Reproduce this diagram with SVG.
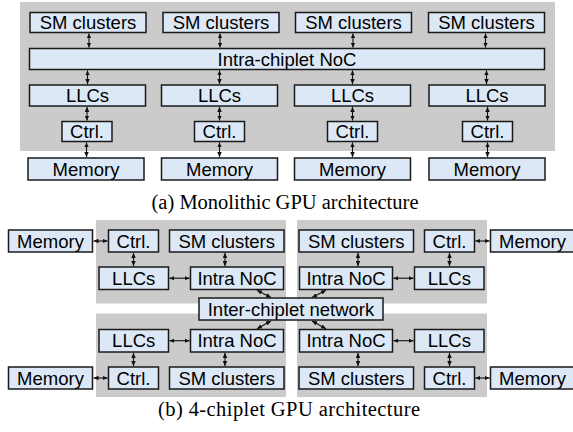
<svg xmlns="http://www.w3.org/2000/svg" width="573" height="432" viewBox="0 0 573 432">
<style>
.bg{fill:#cbcbcb}
.b{fill:#dce8f5;stroke:#1a1a1a;stroke-width:1.5}
.t{font-family:"Liberation Sans",Arial,sans-serif;font-size:18.5px;fill:#000;text-anchor:middle}
.cap{font-family:"Liberation Serif","Times New Roman",serif;font-size:20.5px;fill:#000;text-anchor:middle}
.c line{stroke:#111;stroke-width:1.1;marker-start:url(#ah);marker-end:url(#ah)}
</style>
<defs>
<marker id="ah" viewBox="0 0 10 10" refX="10" refY="5" markerWidth="5" markerHeight="5" orient="auto-start-reverse" markerUnits="userSpaceOnUse"><path d="M0,0.5 L10,5 L0,9.5 z" fill="#111"/></marker>
</defs>
<rect width="573" height="432" fill="#fff"/>

<!-- (a) monolithic -->
<rect class="bg" x="20" y="2" width="535" height="149"/>

<g id="sm_a1"><rect class="b" x="30" y="12.5" width="116" height="20"/><text class="t" x="88" y="29.2">SM clusters</text></g>
<g id="sm_a2"><rect class="b" x="163" y="12.5" width="116" height="20"/><text class="t" x="221" y="29.2">SM clusters</text></g>
<g id="sm_a3"><rect class="b" x="295.5" y="12.5" width="116" height="20"/><text class="t" x="353.5" y="29.2">SM clusters</text></g>
<g id="sm_a4"><rect class="b" x="428.5" y="12.5" width="116" height="20"/><text class="t" x="486.5" y="29.2">SM clusters</text></g>

<g id="noc_a"><rect class="b" x="29.5" y="48.5" width="515" height="21"/><text class="t" x="287" y="65.7">Intra-chiplet NoC</text></g>

<g id="llc_a1"><rect class="b" x="29.5" y="85" width="116" height="21"/><text class="t" x="87.5" y="102.2">LLCs</text></g>
<g id="llc_a2"><rect class="b" x="161.5" y="85" width="116" height="21"/><text class="t" x="219.5" y="102.2">LLCs</text></g>
<g id="llc_a3"><rect class="b" x="294.5" y="85" width="116" height="21"/><text class="t" x="352.5" y="102.2">LLCs</text></g>
<g id="llc_a4"><rect class="b" x="429" y="85" width="116" height="21"/><text class="t" x="487" y="102.2">LLCs</text></g>

<g id="ctrl_a1"><rect class="b" x="62" y="121.5" width="50" height="20"/><text class="t" x="87" y="138.2">Ctrl.</text></g>
<g id="ctrl_a2"><rect class="b" x="194.5" y="121.5" width="50" height="20"/><text class="t" x="219.5" y="138.2">Ctrl.</text></g>
<g id="ctrl_a3"><rect class="b" x="327.5" y="121.5" width="50" height="20"/><text class="t" x="352.5" y="138.2">Ctrl.</text></g>
<g id="ctrl_a4"><rect class="b" x="462.5" y="121.5" width="50" height="20"/><text class="t" x="487.5" y="138.2">Ctrl.</text></g>

<g id="mem_a1"><rect class="b" x="28" y="158" width="116" height="22"/><text class="t" x="86" y="175.7">Memory</text></g>
<g id="mem_a2"><rect class="b" x="161.5" y="158" width="116" height="22"/><text class="t" x="219.5" y="175.7">Memory</text></g>
<g id="mem_a3"><rect class="b" x="294.5" y="158" width="116" height="22"/><text class="t" x="352.5" y="175.7">Memory</text></g>
<g id="mem_a4"><rect class="b" x="429" y="158" width="116" height="22"/><text class="t" x="487" y="175.7">Memory</text></g>

<g id="conn_a" class="c">
<line x1="89" y1="33.4" x2="89" y2="47.6"/>
<line x1="220" y1="33.4" x2="220" y2="47.6"/>
<line x1="353" y1="33.4" x2="353" y2="47.6"/>
<line x1="485.5" y1="33.4" x2="485.5" y2="47.6"/>
<line x1="87.5" y1="70.4" x2="87.5" y2="84.1"/>
<line x1="219.5" y1="70.4" x2="219.5" y2="84.1"/>
<line x1="352.5" y1="70.4" x2="352.5" y2="84.1"/>
<line x1="486.5" y1="70.4" x2="486.5" y2="84.1"/>
<line x1="87" y1="106.9" x2="87" y2="120.6"/>
<line x1="219.5" y1="106.9" x2="219.5" y2="120.6"/>
<line x1="352.5" y1="106.9" x2="352.5" y2="120.6"/>
<line x1="487.5" y1="106.9" x2="487.5" y2="120.6"/>
<line x1="86.5" y1="142.4" x2="86.5" y2="157.1"/>
<line x1="219.5" y1="142.4" x2="219.5" y2="157.1"/>
<line x1="352.5" y1="142.4" x2="352.5" y2="157.1"/>
<line x1="487.5" y1="142.4" x2="487.5" y2="157.1"/>
</g>

<text class="cap" x="285" y="209">(a) Monolithic GPU architecture</text>

<!-- (b) 4-chiplet -->
<rect class="bg" x="96" y="220" width="190" height="83.5"/>
<rect class="bg" x="297" y="220" width="190" height="83.5"/>
<rect class="bg" x="96" y="313.5" width="190" height="83.5"/>
<rect class="bg" x="297" y="313.5" width="190" height="83.5"/>

<g id="mem_tl"><rect class="b" x="8.5" y="230" width="84" height="22"/><text class="t" x="50.5" y="247.6">Memory</text></g>
<g id="ctrl_tl"><rect class="b" x="108.5" y="230" width="50" height="22"/><text class="t" x="133.5" y="247.6">Ctrl.</text></g>
<g id="sm_tl"><rect class="b" x="169.5" y="230" width="114.5" height="22"/><text class="t" x="226.7" y="247.6">SM clusters</text></g>
<g id="llc_tl"><rect class="b" x="99" y="267" width="69.5" height="22.5"/><text class="t" x="133.7" y="284.8">LLCs</text></g>
<g id="noc_tl"><rect class="b" x="190.5" y="267" width="93" height="22.5"/><text class="t" x="237" y="284.8">Intra NoC</text></g>

<g id="sm_tr"><rect class="b" x="299" y="230" width="114.5" height="22"/><text class="t" x="356.3" y="247.6">SM clusters</text></g>
<g id="ctrl_tr"><rect class="b" x="424.5" y="230" width="50" height="22"/><text class="t" x="449.5" y="247.6">Ctrl.</text></g>
<g id="mem_tr"><rect class="b" x="490.5" y="230" width="84" height="22"/><text class="t" x="532.5" y="247.6">Memory</text></g>
<g id="noc_tr"><rect class="b" x="299.5" y="267" width="93" height="22.5"/><text class="t" x="346" y="284.8">Intra NoC</text></g>
<g id="llc_tr"><rect class="b" x="414.5" y="267" width="69.5" height="22.5"/><text class="t" x="449.3" y="284.8">LLCs</text></g>

<g id="llc_bl"><rect class="b" x="99" y="329.5" width="69.5" height="22.5"/><text class="t" x="133.7" y="347.3">LLCs</text></g>
<g id="noc_bl"><rect class="b" x="190.5" y="329.5" width="93" height="22.5"/><text class="t" x="237" y="347.3">Intra NoC</text></g>
<g id="mem_bl"><rect class="b" x="8.5" y="367" width="84" height="22"/><text class="t" x="50.5" y="384.6">Memory</text></g>
<g id="ctrl_bl"><rect class="b" x="108.5" y="367" width="50" height="22"/><text class="t" x="133.5" y="384.6">Ctrl.</text></g>
<g id="sm_bl"><rect class="b" x="169.5" y="367" width="114.5" height="22"/><text class="t" x="226.7" y="384.6">SM clusters</text></g>

<g id="noc_br"><rect class="b" x="299.5" y="329.5" width="93" height="22.5"/><text class="t" x="346" y="347.3">Intra NoC</text></g>
<g id="llc_br"><rect class="b" x="414.5" y="329.5" width="69.5" height="22.5"/><text class="t" x="449.3" y="347.3">LLCs</text></g>
<g id="sm_br"><rect class="b" x="299" y="367" width="114.5" height="22"/><text class="t" x="356.3" y="384.6">SM clusters</text></g>
<g id="ctrl_br"><rect class="b" x="424.5" y="367" width="50" height="22"/><text class="t" x="449.5" y="384.6">Ctrl.</text></g>
<g id="mem_br"><rect class="b" x="490.5" y="367" width="84" height="22"/><text class="t" x="532.5" y="384.6">Memory</text></g>

<g id="conn_b" class="c">
<line x1="93.5" y1="241" x2="107.6" y2="241"/>
<line x1="133.5" y1="252.9" x2="133.5" y2="266.1"/>
<line x1="225" y1="252.9" x2="225" y2="266.1"/>
<line x1="169.4" y1="278.2" x2="189.6" y2="278.2"/>
<line x1="475.4" y1="241" x2="489.6" y2="241"/>
<line x1="449.5" y1="252.9" x2="449.5" y2="266.1"/>
<line x1="358" y1="252.9" x2="358" y2="266.1"/>
<line x1="393.4" y1="278.2" x2="413.6" y2="278.2"/>
<line x1="257" y1="290.2" x2="271" y2="297.6"/>
<line x1="326" y1="290.2" x2="312" y2="297.6"/>
<line x1="271" y1="320.9" x2="257" y2="328.8"/>
<line x1="312" y1="320.9" x2="326" y2="328.8"/>
<line x1="169.4" y1="340.7" x2="189.6" y2="340.7"/>
<line x1="133.5" y1="352.9" x2="133.5" y2="366.1"/>
<line x1="225" y1="352.9" x2="225" y2="366.1"/>
<line x1="93.5" y1="378" x2="107.6" y2="378"/>
<line x1="393.4" y1="340.7" x2="413.6" y2="340.7"/>
<line x1="449.5" y1="352.9" x2="449.5" y2="366.1"/>
<line x1="358" y1="352.9" x2="358" y2="366.1"/>
<line x1="475.4" y1="378" x2="489.6" y2="378"/>
</g>

<g id="inter"><rect class="b" x="199" y="298" width="184" height="22"/><text class="t" x="291" y="315.6">Inter-chiplet network</text></g>

<text class="cap" x="289" y="416" textLength="262" lengthAdjust="spacing">(b) 4-chiplet GPU architecture</text>
</svg>
